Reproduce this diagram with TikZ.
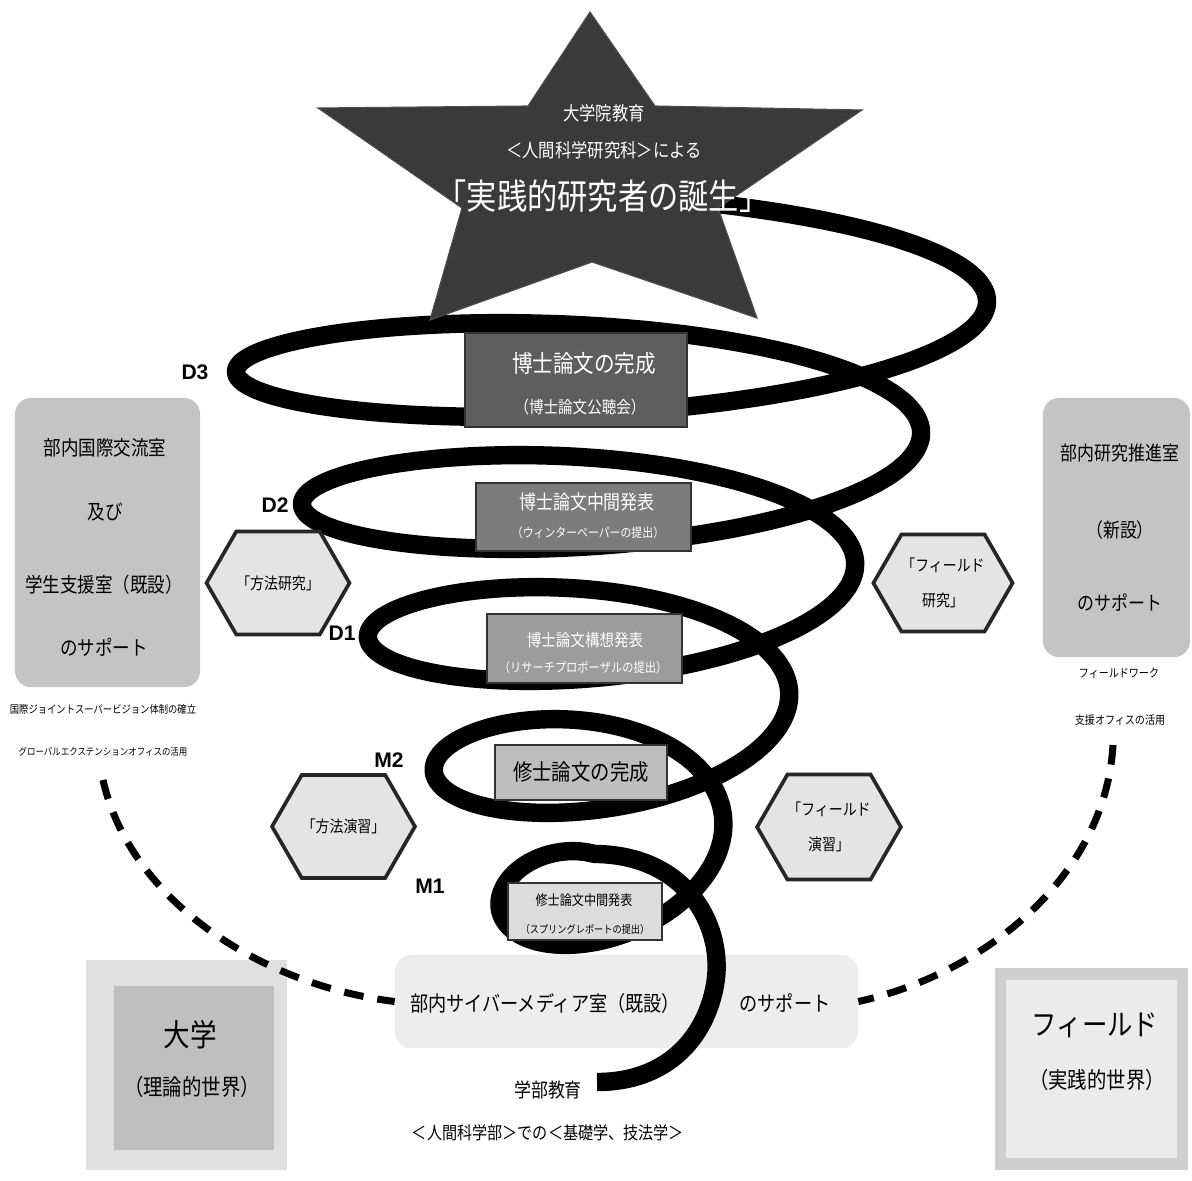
\documentclass[tikz,border=0pt]{standalone}
\usepackage{fontspec}
\setmainfont{Noto Sans CJK JP}[FakeStretch=0.86]
\newfontfamily\labfont{Liberation Sans}
\usetikzlibrary{shapes.symbols}

\definecolor{stargray}{HTML}{3A3A3A}
\definecolor{dthreegray}{HTML}{5E5E5E}
\definecolor{dtwogray}{HTML}{7C7C7C}
\definecolor{donegray}{HTML}{9C9C9C}
\definecolor{mtwogray}{HTML}{BEBEBE}
\definecolor{monegray}{HTML}{DCDCDC}
\definecolor{sidegray}{HTML}{C4C4C4}
\definecolor{hexgray}{HTML}{E4E4E4}
\definecolor{botgray}{HTML}{EDEDED}

\tikzset{
  spiral/.style={line width=0.46cm, line join=round},
  thesisbox/.style={draw=black!80, line width=0.8pt, inner sep=0pt},
  hexa/.style={signal, signal to=east and west, signal pointer angle=120,
    draw=black!85, line width=2.6pt, fill=hexgray, inner sep=0pt, align=center,
    font=\fontsize{11.5}{25}\selectfont},
  sidebox/.style={rounded corners=0.4cm, fill=sidegray, inner sep=0pt},
  yearlabel/.style={font=\labfont\bfseries\fontsize{15}{15}\selectfont},
  supportline/.style={line width=5pt, dash pattern=on 14pt off 10pt},
  txt/.style={inner sep=0pt, align=center}
}

\begin{document}
\begin{tikzpicture}[x=0.025cm, y=-0.025cm]
\useasboundingbox (0,0) rectangle (1192,1180);

% support offices
\node [sidebox, minimum width=4.625cm, minimum height=7.225cm] (intl) at (107.5,542.5) {};
\node [sidebox, minimum width=3.675cm, minimum height=6.475cm] (resp) at (1116.5,527.5) {};
\node [sidebox, fill=botgray, minimum width=11.575cm, minimum height=2.325cm] (cyber) at (626.5,1001.5) {};

% university and field
\fill [gray!25] (86,960) rectangle (287,1170);
\fill [gray!50] (114,986) rectangle (274,1150);
\fill [gray!38] (995,968) rectangle (1188,1170);
\fill [gray!16] (1006,980) rectangle (1177,1158);

\coordinate (lsup) at (103,780);
\coordinate (rsup) at (1113,745);
\draw [supportline] (lsup) .. controls (130,900) and (260,985) .. (cyber.west);
\draw [supportline] (rsup) .. controls (1105,880) and (980,975) .. (cyber.east);

% spiral
\draw [spiral] plot [domain=-0.25:4.75, samples=260, smooth, variable=\t]
  ({595+(392-66*\t)*cos(360*\t)}, {370+132*(\t-0.5)+77*sin(360*\t)})
  .. controls (690,855) and (725,930) .. (715,985)
  .. controls (705,1040) and (665,1082) .. (597,1082);

% star
\filldraw [fill=stargray, draw=black!70, line width=0.8pt] (590,12) -- (655,106) -- (862,110)
  -- (718,208) -- (757,318) -- (592,262) -- (430,320) -- (462,208) -- (318,108)
  -- (528,106) -- cycle;
\node [txt, text=white, font=\fontsize{13.5}{14}\selectfont] (star1) at (604,113) {大学院教育};
\node [txt, text=white, font=\fontsize{13.5}{14}\selectfont] (star2) at (604,150) {＜人間科学研究科＞による};
\node [txt, text=white, font=\fontsize{25}{26}\selectfont] (star3) at (603,196) {「実践的研究者の誕生」};

% thesis stages
\node [thesisbox, fill=dthreegray, minimum width=5.55cm, minimum height=2.35cm] (dthree) at (576,380) {};
\node [txt, text=white, font=\fontsize{17}{18}\selectfont] (dthree1) at (584,363) {博士論文の完成};
\node [txt, text=white, font=\fontsize{12}{13}\selectfont] (dthree2) at (580,407) {（博士論文公聴会）};

\node [thesisbox, fill=dtwogray, minimum width=5.375cm, minimum height=1.7cm] (dtwo) at (583.5,517) {};
\node [txt, text=white, font=\fontsize{14}{15}\selectfont] (dtwo1) at (587,502) {博士論文中間発表};
\node [txt, text=white, font=\fontsize{9}{10}\selectfont] (dtwo2) at (588,533) {（ウィンターペーパーの提出）};

\node [thesisbox, fill=donegray, minimum width=4.875cm, minimum height=1.725cm] (done) at (584.5,648.5) {};
\node [txt, text=white, font=\fontsize{12}{13}\selectfont] (done1) at (585,640) {博士論文構想発表};
\node [txt, text=white, font=\fontsize{9.3}{10}\selectfont] (done2) at (583,668) {（リサーチプロポーザルの提出）};

\node [thesisbox, fill=mtwogray, minimum width=4.3cm, minimum height=1.375cm] (mtwo) at (581,772.5) {};
\node [txt, font=\fontsize{16}{17}\selectfont] (mtwo1) at (581,772) {修士論文の完成};

\node [thesisbox, fill=monegray, minimum width=3.85cm, minimum height=1.425cm] (mone) at (585,911.5) {};
\node [txt, font=\fontsize{10}{11}\selectfont] (mone1) at (584,900) {修士論文中間発表};
\node [txt, font=\fontsize{7.6}{8}\selectfont] (mone2) at (585,929) {（スプリングレポートの提出）};

% years
\node [yearlabel] (ydthree) at (195,372) {D3};
\node [yearlabel] (ydtwo) at (275,505) {D2};
\node [yearlabel] (ydone) at (342,633) {D1};
\node [yearlabel] (ymtwo) at (389,760) {M2};
\node [yearlabel] (ymone) at (430,886) {M1};

% methods and field
\node [hexa, minimum width=3.375cm, minimum height=2.575cm] (mresearch) at (278,583) {「方法研究」};
\node [hexa, minimum width=3.175cm, minimum height=2.575cm] (mpractice) at (343.5,826.5) {「方法演習」};
\node [hexa, minimum width=3.425cm, minimum height=2.425cm] (fresearch) at (943,583) {「フィールド\\研究」};
\node [hexa, minimum width=3.45cm, minimum height=2.625cm] (fpractice) at (829,827) {「フィールド\\演習」};

% office texts
\node [txt, font=\fontsize{14.5}{15}\selectfont] (intl1) at (105,448) {部内国際交流室};
\node [txt, font=\fontsize{14.5}{15}\selectfont] (intl2) at (105,512) {及び};
\node [txt, font=\fontsize{14.5}{15}\selectfont] (intl3) at (104,585) {学生支援室（既設）};
\node [txt, font=\fontsize{14.5}{15}\selectfont] (intl4) at (104,647) {のサポート};
\node [txt, font=\fontsize{7.7}{8}\selectfont] (intlnote1) at (103,709) {国際ジョイントスーパービジョン体制の確立};
\node [txt, font=\fontsize{7}{8}\selectfont] (intlnote2) at (103,752) {グローバルエクステンションオフィスの活用};

\node [txt, font=\fontsize{14}{15}\selectfont] (resp1) at (1120,453) {部内研究推進室};
\node [txt, font=\fontsize{14}{15}\selectfont] (resp2) at (1120,530) {（新設）};
\node [txt, font=\fontsize{14}{15}\selectfont] (resp3) at (1120,603) {のサポート};
\node [txt, font=\fontsize{8.3}{9}\selectfont] (respnote1) at (1119,673) {フィールドワーク};
\node [txt, font=\fontsize{8.3}{9}\selectfont] (respnote2) at (1120,720) {支援オフィスの活用};

\node [txt, font=\fontsize{15}{16}\selectfont] (cyber1) at (545,1003) {部内サイバーメディア室（既設）};
\node [txt, font=\fontsize{15}{16}\selectfont] (cyber2) at (785,1003) {のサポート};

\node [txt, font=\fontsize{14}{15}\selectfont] (under1) at (548,1090) {学部教育};
\node [txt, font=\fontsize{12.5}{13}\selectfont] (under2) at (548,1133) {＜人間科学部＞での＜基礎学、技法学＞};

\node [txt, font=\fontsize{22}{23}\selectfont] (univ1) at (190,1035) {大学};
\node [txt, font=\fontsize{16}{17}\selectfont] (univ2) at (192,1087) {（理論的世界）};
\node [txt, font=\fontsize{21}{22}\selectfont] (field1) at (1095,1025) {フィールド};
\node [txt, font=\fontsize{16}{17}\selectfont] (field2) at (1097,1080) {（実践的世界）};
\end{tikzpicture}
\end{document}
